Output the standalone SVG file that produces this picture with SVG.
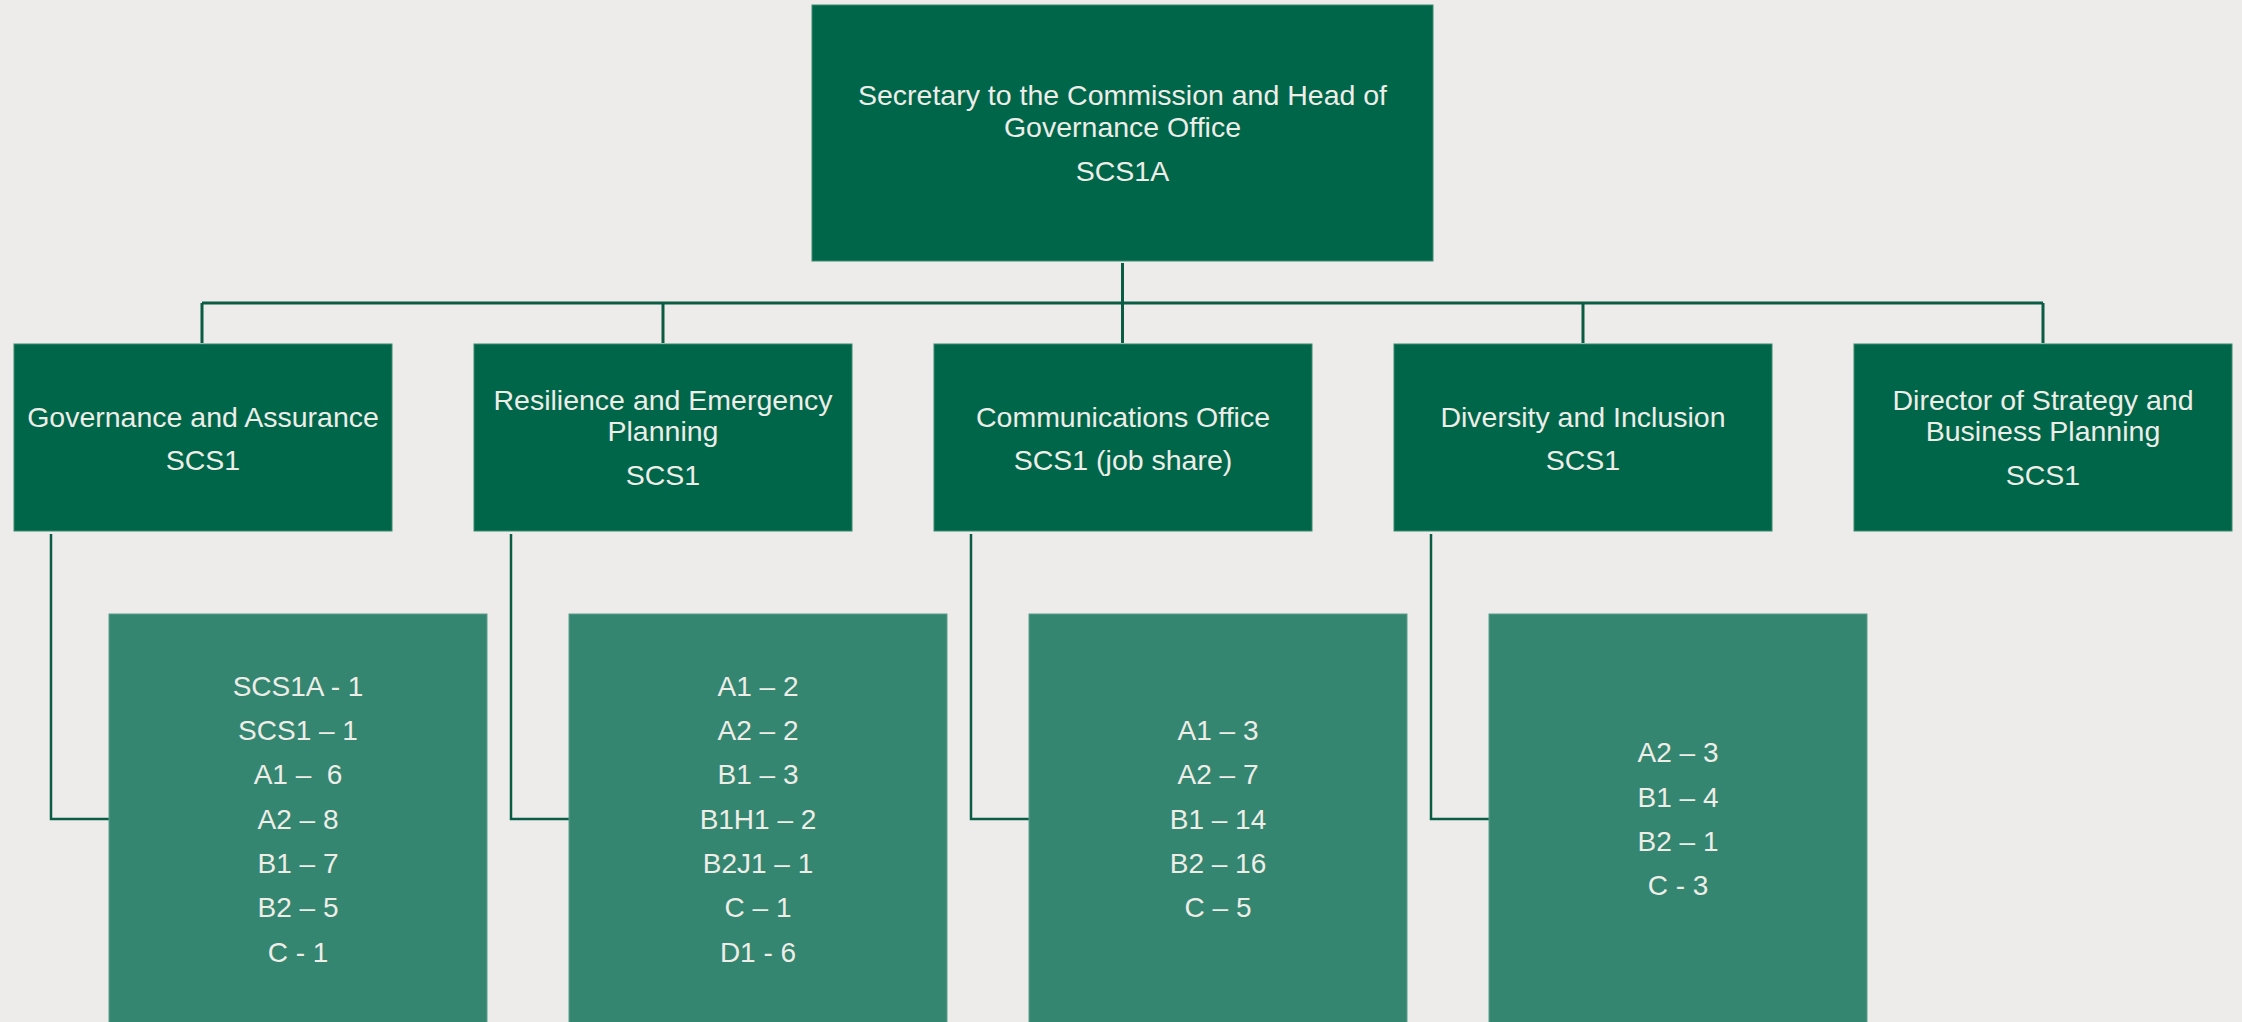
<svg xmlns="http://www.w3.org/2000/svg" width="2242" height="1022" viewBox="0 0 2242 1022">
<style>
.top{fill:#00664a;stroke:#3a8a6e;stroke-width:1}
.sub{fill:#348670;stroke:#5a9e88;stroke-width:1}
text{font-family:"Liberation Sans",Arial,sans-serif;font-size:28.5px;fill:#eeede8;text-anchor:middle}
.s{font-size:28px}
.ln{fill:none;stroke:#0b5c44;stroke-width:3}
.el{fill:none;stroke:#0b5c44;stroke-width:2.5}
</style>
<rect width="2242" height="1022" fill="#edecea"/>
<g id="connectors">
<path class="ln" d="M1122.5 263V303M202 303H2043M202 303V343M663 303V343M1122.5 303V343M1583 303V343M2043 303V343"/>
<path class="el" d="M51 534V819H109M511 534V819H569M971 534V819H1029M1431 534V819H1489"/>
</g>
<g id="head">
<rect class="top" x="812" y="5" width="621" height="256"/>
<text x="1122.5" y="105">Secretary to the Commission and Head of</text>
<text x="1122.5" y="137">Governance Office</text>
<text x="1122.5" y="181">SCS1A</text>
</g>
<g id="governance">
<rect class="top" x="14" y="344" width="378" height="187"/>
<text x="203" y="427">Governance and Assurance</text>
<text x="203" y="470">SCS1</text>
</g>
<g id="resilience">
<rect class="top" x="474" y="344" width="378" height="187"/>
<text x="663" y="410">Resilience and Emergency</text>
<text x="663" y="441">Planning</text>
<text x="663" y="485">SCS1</text>
</g>
<g id="communications">
<rect class="top" x="934" y="344" width="378" height="187"/>
<text x="1123" y="427">Communications Office</text>
<text x="1123" y="470">SCS1 (job share)</text>
</g>
<g id="diversity">
<rect class="top" x="1394" y="344" width="378" height="187"/>
<text x="1583" y="427">Diversity and Inclusion</text>
<text x="1583" y="470">SCS1</text>
</g>
<g id="strategy">
<rect class="top" x="1854" y="344" width="378" height="187"/>
<text x="2043" y="410">Director of Strategy and</text>
<text x="2043" y="441">Business Planning</text>
<text x="2043" y="485">SCS1</text>
</g>
<g id="governance-staff">
<rect class="sub" x="109" y="614" width="378" height="420"/>
<text class="s" x="298" y="696">SCS1A - 1</text>
<text class="s" x="298" y="740">SCS1 – 1</text>
<text class="s" x="298" y="784" xml:space="preserve">A1 –  6</text>
<text class="s" x="298" y="829">A2 – 8</text>
<text class="s" x="298" y="873">B1 – 7</text>
<text class="s" x="298" y="917">B2 – 5</text>
<text class="s" x="298" y="962">C - 1</text>
</g>
<g id="resilience-staff">
<rect class="sub" x="569" y="614" width="378" height="420"/>
<text class="s" x="758" y="696">A1 – 2</text>
<text class="s" x="758" y="740">A2 – 2</text>
<text class="s" x="758" y="784">B1 – 3</text>
<text class="s" x="758" y="829">B1H1 – 2</text>
<text class="s" x="758" y="873">B2J1 – 1</text>
<text class="s" x="758" y="917">C – 1</text>
<text class="s" x="758" y="962">D1 - 6</text>
</g>
<g id="communications-staff">
<rect class="sub" x="1029" y="614" width="378" height="420"/>
<text class="s" x="1218" y="740">A1 – 3</text>
<text class="s" x="1218" y="784">A2 – 7</text>
<text class="s" x="1218" y="829">B1 – 14</text>
<text class="s" x="1218" y="873">B2 – 16</text>
<text class="s" x="1218" y="917">C – 5</text>
</g>
<g id="diversity-staff">
<rect class="sub" x="1489" y="614" width="378" height="420"/>
<text class="s" x="1678" y="762">A2 – 3</text>
<text class="s" x="1678" y="807">B1 – 4</text>
<text class="s" x="1678" y="851">B2 – 1</text>
<text class="s" x="1678" y="895">C - 3</text>
</g>
</svg>
